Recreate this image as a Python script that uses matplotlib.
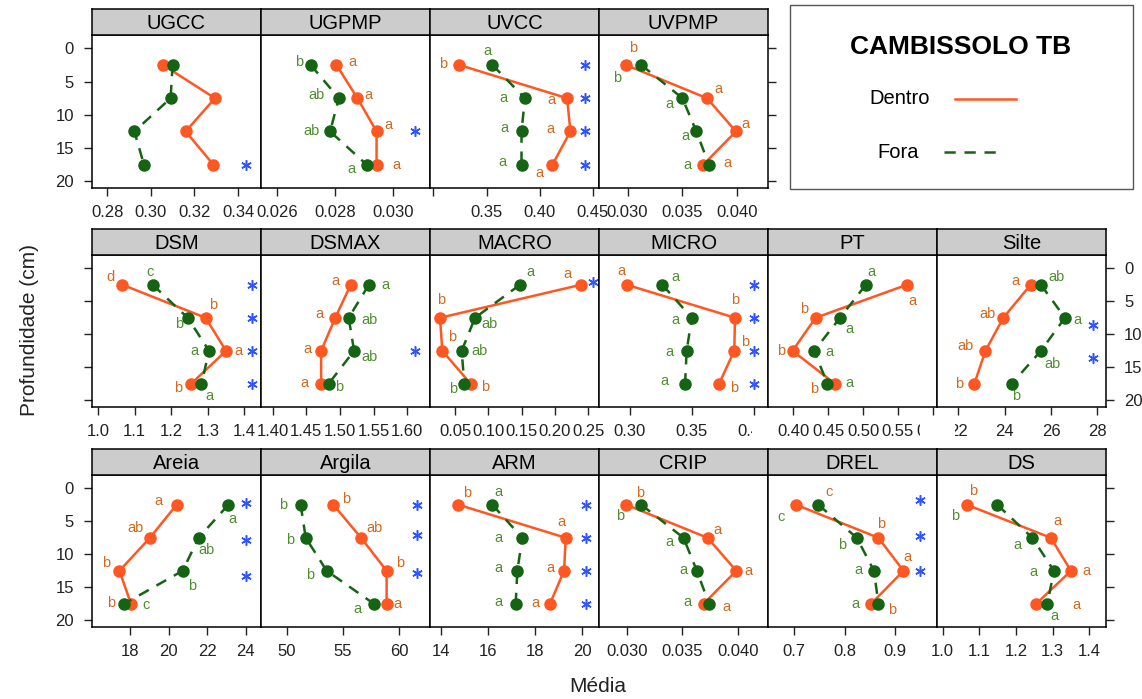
#!/usr/bin/env python3
"""
Perfis de profundidade por atributo - Cambissolo TB (dentro x fora)
"""

import matplotlib
matplotlib.use("Agg")
import matplotlib.pyplot as plt
import matplotlib.transforms as mtransforms
from matplotlib.patches import Rectangle

plt.rcParams['font.family'] = ['Liberation Sans', 'DejaVu Sans']

W, H = 1142, 699

DEPTH = [2.5, 7.5, 12.5, 17.5]

ROW1 = ["UGCC", "UGPMP", "UVCC", "UVPMP"]
ROW2 = ["DSM", "DSMAX", "MACRO", "MICRO", "PT", "Silte"]
ROW3 = ["Areia", "Argila", "ARM", "CRIP", "DREL", "DS"]

# medias por profundidade (2.5, 7.5, 12.5, 17.5 cm)
DENTRO = {
    "UGCC":  [0.3056, 0.3294, 0.3160, 0.3287],
    "UGPMP": [0.02805, 0.02877, 0.02943, 0.02943],
    "UVCC":  [0.3242, 0.4258, 0.4289, 0.4120],
    "UVPMP": [0.02985, 0.03724, 0.03988, 0.03690],
    "DSM":   [1.066, 1.294, 1.350, 1.254],
    "DSMAX": [1.516, 1.493, 1.472, 1.472],
    "MACRO": [0.239, 0.0275, 0.031, 0.0736],
    "MICRO": [0.2973, 0.3847, 0.3841, 0.3718],
    "PT":    [0.563, 0.432, 0.399, 0.460],
    "Silte": [25.12, 23.94, 23.17, 22.69],
    "Areia": [20.41, 19.03, 17.45, 18.05],
    "Argila": [54.14, 56.60, 58.87, 58.87],
    "ARM":   [14.75, 19.30, 19.23, 18.63],
    "CRIP":  [0.02994, 0.03726, 0.03985, 0.03690],
    "DREL":  [0.7034, 0.8668, 0.9165, 0.8522],
    "DS":    [1.066, 1.295, 1.350, 1.255],
}

FORA = {
    "UGCC":  [0.3100, 0.3091, 0.2925, 0.2969],
    "UGPMP": [0.02716, 0.02813, 0.02783, 0.02909],
    "UVCC":  [0.3555, 0.3861, 0.3829, 0.3829],
    "UVPMP": [0.03125, 0.0350, 0.03627, 0.03742],
    "DSM":   [1.149, 1.245, 1.3035, 1.2827],
    "DSMAX": [1.543, 1.513, 1.521, 1.483],
    "MACRO": [0.1475, 0.080, 0.060, 0.064],
    "MICRO": [0.3261, 0.3498, 0.3457, 0.3444],
    "PT":    [0.504, 0.467, 0.430, 0.449],
    "Silte": [25.56, 26.60, 25.56, 24.30],
    "Areia": [23.09, 21.55, 20.72, 17.69],
    "Argila": [51.24, 51.69, 53.55, 57.75],
    "ARM":   [16.19, 17.46, 17.25, 17.18],
    "CRIP":  [0.0313, 0.0351, 0.0363, 0.0374],
    "DREL":  [0.7476, 0.8239, 0.858, 0.8668],
    "DS":    [1.149, 1.2445, 1.3035, 1.2855],
}

# letras do teste de medias entre profundidades
LET_DENTRO = {
    "UGPMP": ["a", "a", "a", "a"],
    "UVCC":  ["b", "a", "a", "a"],
    "UVPMP": ["b", "a", "a", "a"],
    "DSM":   ["d", "b", "a", "b"],
    "DSMAX": ["a", "a", "a", "a"],
    "MACRO": ["a", "b", "b", "b"],
    "MICRO": ["a", "b", "b", "b"],
    "PT":    ["a", "b", "b", "b"],
    "Silte": ["a", "ab", "ab", "b"],
    "Areia": ["a", "ab", "b", "b"],
    "Argila": ["b", "ab", "b", "a"],
    "ARM":   ["b", "a", "a", "a"],
    "CRIP":  ["b", "a", "a", "a"],
    "DREL":  ["c", "b", "a", "b"],
    "DS":    ["b", "a", "a", "a"],
}

LET_FORA = {
    "UGPMP": ["b", "ab", "ab", "a"],
    "UVCC":  ["a", "a", "a", "a"],
    "UVPMP": ["b", "a", "a", "a"],
    "DSM":   ["c", "b", "a", "a"],
    "DSMAX": ["a", "ab", "ab", "b"],
    "MACRO": ["a", "ab", "ab", "b"],
    "MICRO": ["a", "a", "a", "a"],
    "PT":    ["a", "a", "a", "a"],
    "Silte": ["ab", "a", "ab", "b"],
    "Areia": ["a", "ab", "b", "c"],
    "Argila": ["b", "b", "b", "a"],
    "ARM":   ["a", "a", "a", "a"],
    "CRIP":  ["b", "a", "a", "a"],
    "DREL":  ["c", "b", "a", "a"],
    "DS":    ["b", "a", "a", "a"],
}

# profundidades com diferenca dentro x fora
STARS = {
    "UGCC": [17.5], "UGPMP": [12.5], "UVCC": [2.5, 7.5, 12.5, 17.5],
    "DSM": [2.5, 7.5, 12.5, 17.5], "DSMAX": [12.5], "MACRO": [2.5],
    "MICRO": [2.5, 7.5, 12.5, 17.5], "Silte": [7.5, 12.5],
    "Areia": [2.5, 7.5, 12.5], "Argila": [2.5, 7.5, 12.5],
    "ARM": [2.5, 7.5, 12.5, 17.5], "DREL": [2.5, 7.5, 12.5],
}

XTICKS = {
    "UGCC":  [0.28, 0.30, 0.32, 0.34],
    "UGPMP": [0.026, 0.028, 0.030],
    "UVCC":  [0.30, 0.35, 0.40, 0.45],
    "UVPMP": [0.030, 0.035, 0.040],
    "DSM":   [1.0, 1.1, 1.2, 1.3, 1.4],
    "DSMAX": [1.40, 1.45, 1.50, 1.55, 1.60],
    "MACRO": [0.05, 0.10, 0.15, 0.20, 0.25],
    "MICRO": [0.30, 0.35, 0.40],
    "PT":    [0.40, 0.45, 0.50, 0.55, 0.60],
    "Silte": [22, 24, 26, 28],
    "Areia": [18, 20, 22, 24],
    "Argila": [50, 55, 60],
    "ARM":   [14, 16, 18, 20],
    "CRIP":  [0.030, 0.035, 0.040],
    "DREL":  [0.7, 0.8, 0.9],
    "DS":    [1.0, 1.1, 1.2, 1.3, 1.4],
}

XLABELS = {
    "UGCC":  ["0.28", "0.30", "0.32", "0.34"],
    "UGPMP": ["0.026", "0.028", "0.030"],
    "UVCC":  ["", "0.35", "0.40", "0.45"],
    "UVPMP": ["0.030", "0.035", "0.040"],
    "DSM":   ["1.0", "1.1", "1.2", "1.3", "1.4"],
    "DSMAX": ["1.40", "1.45", "1.50", "1.55", "1.60"],
    "MACRO": ["0.05", "0.10", "0.15", "0.20", "0.25"],
    "MICRO": ["0.30", "0.35", "0.40"],
    "PT":    ["0.40", "0.45", "0.50", "0.55", "0.60"],
    "Silte": ["22", "24", "26", "28"],
    "Areia": ["18", "20", "22", "24"],
    "Argila": ["50", "55", "60"],
    "ARM":   ["14", "16", "18", "20"],
    "CRIP":  ["0.030", "0.035", "0.040"],
    "DREL":  ["0.7", "0.8", "0.9"],
    "DS":    ["1.0", "1.1", "1.2", "1.3", "1.4"],
}

# ---- layout (pixels) ----
XLIM = {
    "UGCC": (0.2731, 0.3505), "UGPMP": (0.02545, 0.03127),
    "UVCC": (0.2968, 0.4558), "UVPMP": (0.0274, 0.0428),
    "DSM": (0.983, 1.4457), "DSMAX": (1.3825, 1.634),
    "MACRO": (0.0125, 0.266), "MICRO": (0.275, 0.4113),
    "PT": (0.3638, 0.606), "Silte": (21.08, 28.37),
    "Areia": (16.03, 24.78), "Argila": (47.72, 62.72),
    "ARM": (13.55, 20.71), "CRIP": (0.0275, 0.0427),
    "DREL": (0.6478, 0.983), "DS": (0.9845, 1.4456),
}

# deslocamento das letras (dx, dy para baixo) em pixels
OFF_DENTRO = {
    "UGPMP": [(16, -3), (11, -3), (12, -6), (20, 0)],
    "UVCC":  [(-16, -1), (-16, 2), (-20, -2), (-13, 8)],
    "UVPMP": [(7, -17), (11, -9), (9, -7), (24, -2)],
    "DSM":   [(-12, -8), (8, -13), (12, 0), (-13, 4)],
    "DSMAX": [(-15, -4), (-16, -4), (-14, -2), (-17, -1)],
    "MACRO": [(-14, -11), (1, -18), (10, -14), (14, 3)],
    "MICRO": [(-5, -14), (0, -18), (11, -9), (15, 4)],
    "PT":    [(5, 16), (-11, -9), (-11, 0), (-21, 5)],
    "Silte": [(-15, -4), (-16, -4), (-20, -5), (-15, 0)],
    "Areia": [(-18, -4), (-14, -10), (-13, -8), (-20, -1)],
    "Argila": [(13, -6), (13, -10), (13, -8), (11, 0)],
    "ARM":   [(9, -12), (-4, -16), (-14, -3), (-14, -1)],
    "CRIP":  [(14, -12), (10, -8), (12, 0), (23, 3)],
    "DREL":  [(33, -13), (3, -14), (4, -14), (21, 6)],
    "DS":    [(6, -14), (7, -17), (15, 0), (40, 1)],
}

OFF_FORA = {
    "UGPMP": [(-12, -3), (-22, -3), (-19, 0), (-15, 4)],
    "UVCC":  [(-5, -14), (-21, 0), (-17, -3), (-19, -3)],
    "UVPMP": [(-24, 13), (-13, 6), (-11, 5), (-22, 0)],
    "DSM":   [(-3, -13), (-9, 6), (-15, 0), (8, 12)],
    "DSMAX": [(17, 0), (21, 2), (15, 6), (11, 3)],
    "MACRO": [(10, -13), (15, 6), (18, 0), (-11, 5)],
    "MICRO": [(13, -8), (-16, 2), (-17, 1), (-21, -3)],
    "PT":    [(6, -13), (9, 11), (15, 1), (22, -1)],
    "Silte": [(16, -8), (12, 2), (12, 13), (4, 12)],
    "Areia": [(4, 14), (8, 12), (10, 15), (22, 1)],
    "Argila": [(-18, 0), (-16, 2), (-17, 4), (-17, 5)],
    "ARM":   [(6, -13), (-24, 0), (-19, -3), (-17, -2)],
    "CRIP":  [(-21, 11), (-14, 4), (-13, -1), (-22, -2)],
    "DREL":  [(-37, 12), (-15, 7), (-16, -1), (-23, 0)],
    "DS":    [(-42, 11), (-15, 7), (-20, 1), (7, 12)],
}

STAR_X = {
    "UGCC": 0.909, "UGPMP": 0.911, "UVCC": 0.917, "DSM": 0.945,
    "DSMAX": 0.911, "MACRO": 0.963, "MICRO": 0.92, "Silte": 0.924,
    "Areia": 0.909, "Argila": 0.925, "ARM": 0.921, "DREL": 0.899,
}
STAR_NUDGE = {
    ("MACRO", 2.5): -3, ("Silte", 7.5): 7, ("Silte", 12.5): 7,
    ("Areia", 2.5): -2, ("Areia", 7.5): 2, ("Areia", 12.5): 5,
    ("Argila", 7.5): -3, ("Argila", 12.5): 2, ("DREL", 2.5): -5,
    ("DREL", 7.5): -2,
}

# partes de rotulos encobertas: (painel, indice, x visivel min, x visivel max)
CLIPPED = [("MICRO", 2, 0, 752), ("PT", 4, 0, 920), ("Silte", 0, 955, W)]

COL_DENTRO = "#FF5722"
COL_FORA = "#146414"
TXT_DENTRO = "#D2691E"
TXT_FORA = "#4E8F2E"
COL_STAR = "#2F55FF"

ROWS = [(ROW1, 9, 35, 188), (ROW2, 229, 255, 407), (ROW3, 449, 475, 627)]
X0, PW = 92, 169


def px_rect(x0, y0, x1, y1):
    return [x0 / W, 1 - y1 / H, (x1 - x0) / W, (y1 - y0) / H]


def draw_panel(fig, name, left, top, bottom):
    ax = fig.add_axes(px_rect(left, top, left + PW, bottom))
    ax.set_xlim(*XLIM[name])
    ax.set_ylim(21, -2)

    ax.plot(DENTRO[name], DEPTH, '-o', color=COL_DENTRO, lw=1.8, ms=8, zorder=3)
    ax.plot(FORA[name], DEPTH, '--o', color=COL_FORA, lw=1.8, ms=8,
            dashes=(4.5, 3.5), zorder=4)

    if name in LET_DENTRO:
        for x, d, lab, (dx, dy) in zip(DENTRO[name], DEPTH, LET_DENTRO[name], OFF_DENTRO[name]):
            ax.annotate(lab, (x, d), xytext=(dx, -dy), textcoords='offset pixels',
                        ha='center', va='center', color=TXT_DENTRO, fontsize=10.5,
                        annotation_clip=False)
        for x, d, lab, (dx, dy) in zip(FORA[name], DEPTH, LET_FORA[name], OFF_FORA[name]):
            ax.annotate(lab, (x, d), xytext=(dx, -dy), textcoords='offset pixels',
                        ha='center', va='center', color=TXT_FORA, fontsize=10.5,
                        annotation_clip=False)

    # asteriscos: diferenca entre dentro e fora
    trans = mtransforms.blended_transform_factory(ax.transAxes, ax.transData)
    for d in STARS.get(name, []):
        nudge = STAR_NUDGE.get((name, d), 0) / 6.6
        ax.plot([STAR_X[name]], [d + nudge], marker=(6, 2, 0), ms=7.5, mew=1.1,
                color=COL_STAR, transform=trans, clip_on=False)

    ax.set_xticks(XTICKS[name])
    ax.set_xticklabels(XLABELS[name])
    ax.set_yticks([0, 5, 10, 15, 20])
    ax.tick_params(axis='both', direction='out', length=6, width=1,
                   labelsize=12, colors='#222222')
    ax.tick_params(axis='x', pad=6)
    ax.tick_params(axis='y', pad=7, left=False, right=False,
                   labelleft=False, labelright=False)
    for sp in ax.spines.values():
        sp.set_linewidth(1.1)

    # strip com o nome do atributo
    st = fig.add_axes(px_rect(left, top - 26, left + PW, top))
    st.set_facecolor('#CCCCCC')
    st.set_xticks([])
    st.set_yticks([])
    for sp in st.spines.values():
        sp.set_linewidth(1.1)
    st.text(0.5, 0.45, name, ha='center', va='center', fontsize=14.5,
            transform=st.transAxes)
    return ax


def main():
    fig = plt.figure(figsize=(W / 100, H / 100), dpi=100)
    axes = {}

    for r, (names, strip_top, top, bottom) in enumerate(ROWS):
        row_axes = []
        for i, name in enumerate(names):
            ax = draw_panel(fig, name, X0 + i * PW, top, bottom)
            axes[name] = ax
            row_axes.append(ax)
        # eixos y alternados como no lattice
        first, last = row_axes[0], row_axes[-1]
        first.tick_params(axis='y', left=True, labelleft=(r != 1))
        last.tick_params(axis='y', right=True, labelright=(r == 1))

    # rotulos parcialmente encobertos
    for name, idx, xa, xb in CLIPPED:
        lab = axes[name].get_xticklabels()[idx]
        lab.set_clip_box(mtransforms.Bbox([[xa, 0], [xb, H]]))
        lab.set_clip_on(True)

    fig.text(30 / W, 1 - 330 / H, 'Profundidade (cm)', rotation=90,
             ha='center', va='center', fontsize=15, color='#222222')
    fig.text(598 / W, 1 - 687 / H, 'Média', ha='center', va='center',
             fontsize=15, color='#222222')

    # caixa da legenda
    fig.patches.append(Rectangle((790 / W, 1 - 189 / H), 343 / W, 184 / H,
                                 transform=fig.transFigure, fill=False,
                                 edgecolor='#555555', lw=1))
    fig.text(961 / W, 1 - 47 / H, 'CAMBISSOLO TB', ha='center', va='center',
             fontsize=19, fontweight='bold')
    fig.text(900 / W, 1 - 99 / H, 'Dentro', ha='center', va='center', fontsize=14.5)
    fig.text(898 / W, 1 - 152 / H, 'Fora', ha='center', va='center', fontsize=14.5)
    fig.add_artist(plt.Line2D([955 / W, 1016 / W], [1 - 99 / H] * 2,
                              color=COL_DENTRO, lw=1.8))
    fig.add_artist(plt.Line2D([944 / W, 1003 / W], [1 - 152 / H] * 2,
                              color=COL_FORA, lw=1.8, ls='--', dashes=(4.5, 3.5)))

    fig.savefig('out.png', dpi=100)


if __name__ == "__main__":
    main()
